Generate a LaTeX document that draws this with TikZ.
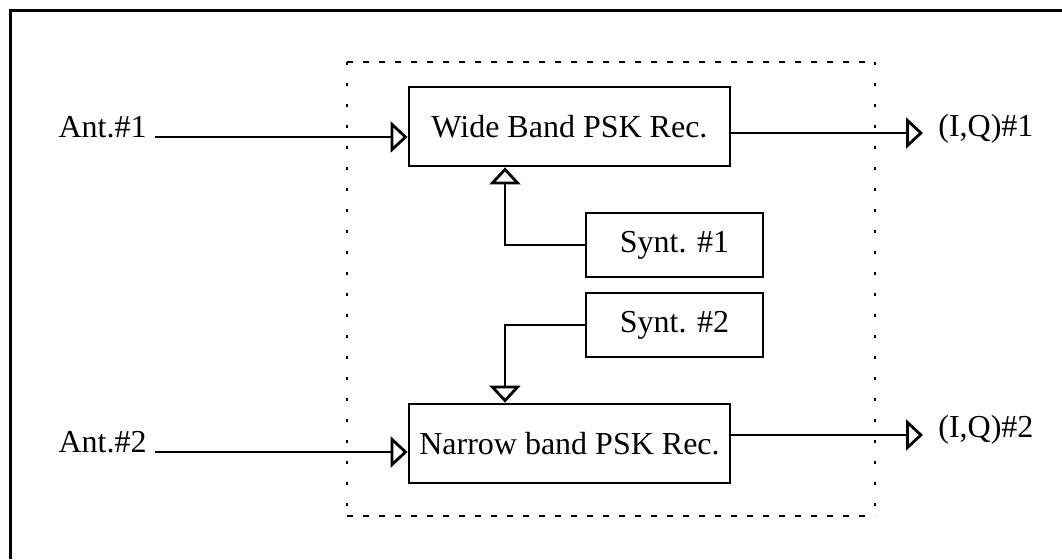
\documentclass[tikz,border=0pt]{standalone}
\usepackage{fontspec}
\setmainfont{Liberation Serif}
\usetikzlibrary{arrows.meta}
\begin{document}
\begin{tikzpicture}[
        x=0.5pt, y=-0.5pt,
        every node/.style={font=\fontsize{16}{19}\selectfont, inner sep=0pt},
        block/.style={draw, line width=1.4pt, align=center},
        rec/.style={block, minimum width=160.5pt, minimum height=39.5pt},
        synt/.style={block, minimum width=88.5pt, minimum height=32pt},
        sig/.style={line width=1.4pt, -{Triangle[open, length=8.5pt, width=15.5pt]}}
    ]
    \useasboundingbox (0,0) rectangle (1062,559);
    \draw[line width=1.5pt] (1062,10) -- (10,10) -- (10,559);
    \draw[line width=0.7pt, dash pattern=on 3pt off 5pt] (347,62) -- (875,62) (347,516) -- (875,516);
    \draw[line width=0.7pt, dash pattern=on 1.5pt off 9pt] (347,62) -- (347,516) (875,62) -- (875,516);
    \node[rec] (wide) at (569.5,126.5) {Wide Band PSK Rec.};
    \node[rec] (narrow) at (569.5,443.5) {Narrow band PSK Rec.};
    \node[synt] (synt1) at (674.5,245) {Synt. \#1};
    \node[synt] (synt2) at (674.5,325) {Synt. \#2};
    \node[anchor=base east] (ant1) at (147,137) {Ant.\#1};
    \node[anchor=base east] (ant2) at (147,452) {Ant.\#2};
    \coordinate (tap) at (505,0);
    \coordinate (out1) at (923,133);
    \coordinate (out2) at (923,435);
    \node[anchor=west] (iq1) at (938,129) {(I,Q)\#1};
    \node[anchor=west] (iq2) at (938,430) {(I,Q)\#2};
    \draw[sig] ([xshift=4pt]ant1.base east) -- (wide.west |- ant1.base);
    \draw[sig] (wide.east |- out1) -- (out1);
    \draw[sig] (synt1.west) -| (wide.south -| tap);
    \draw[sig] (synt2.west) -| (narrow.north -| tap);
    \draw[sig] ([xshift=4pt]ant2.base east) -- (narrow.west |- ant2.base);
    \draw[sig] (narrow.east |- out2) -- (out2);
\end{tikzpicture}
\end{document}
